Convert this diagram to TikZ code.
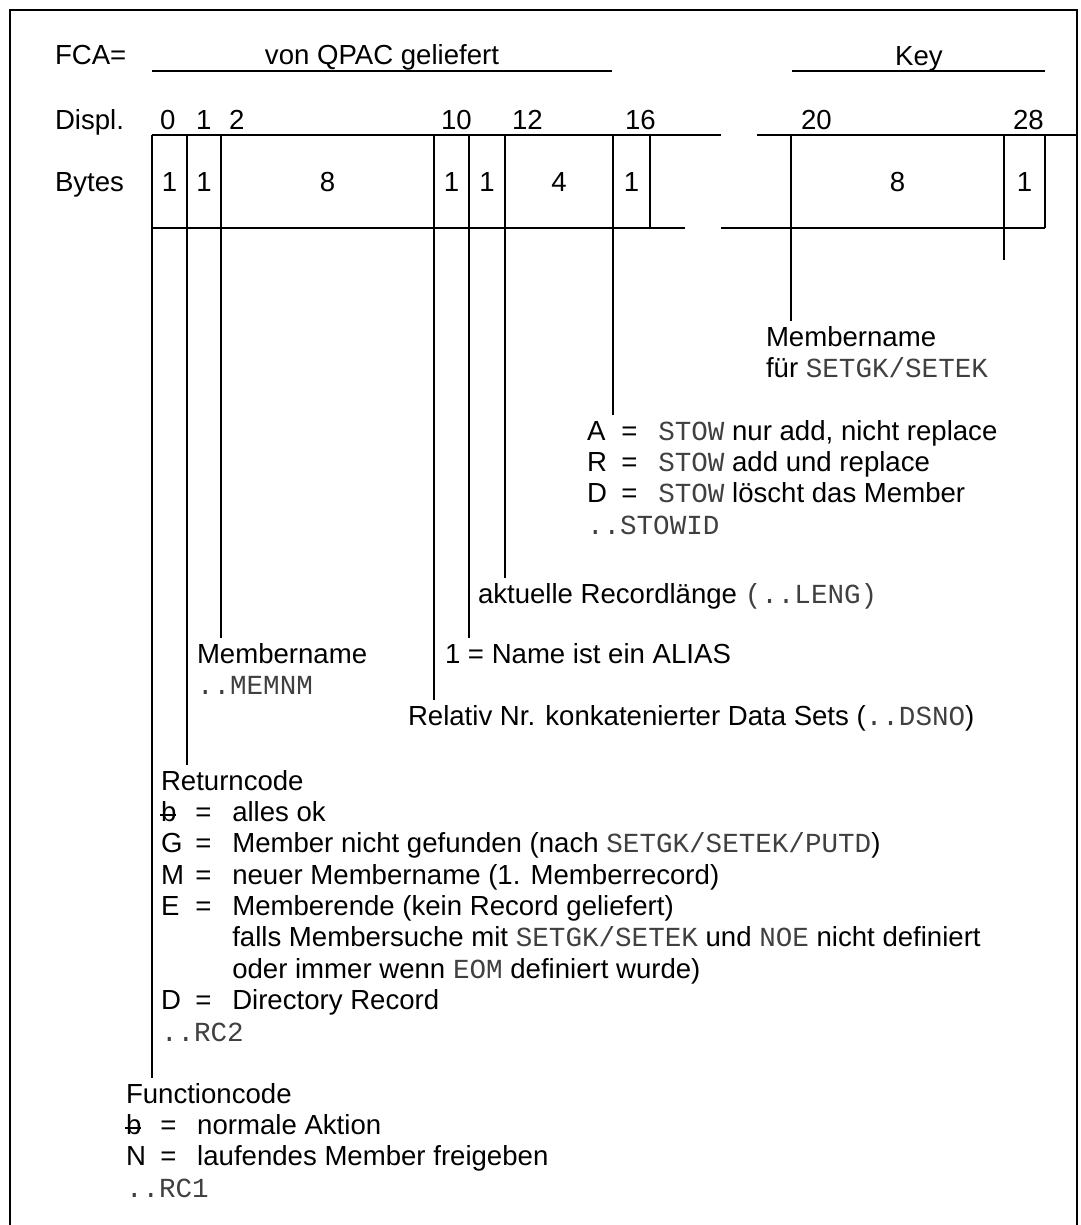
\documentclass[tikz,border=0pt]{standalone}
\usepackage{fontspec}
\setmainfont{Liberation Sans}
\setmonofont{Liberation Mono}

\newcommand{\cd}[1]{{\ttfamily\color{black!75}#1}}
\newcommand{\blnk}{\makebox[0pt][l]{\hspace{-0.04em}\rule[0.2em]{0.6em}{0.055em}}b}
\newcommand{\code}[2]{\makebox[1.25em][l]{#1}=\hspace{0.75em}#2}
\newcommand{\folge}{\hspace*{1.25em}\phantom{=}\hspace{0.75em}}
\newcommand{\blk}[1]{\begin{tabular}[t]{@{}l@{}}#1\end{tabular}}

\tikzset{
	txt/.style={inner sep=0pt, outer xsep=0pt, outer ysep=2pt, anchor=base west},
	zahl/.style={inner sep=0pt, anchor=base},
}

\begin{document}
\begin{tikzpicture}[x=0.02cm, y=-0.02cm, line width=1.1pt, font=\fontsize{15.7}{17.86}\selectfont]
	
	\useasboundingbox (0,0) rectangle (1081,1225);
	
	% Rahmen
	\draw (10,1225) -- (10,10) -- (1077,10) -- (1077,1225);
	
	% Kopf
	\node[txt] (fca)   at (55,64)  {FCA=};
	\node[txt] (displ) at (55,129) {Displ.};
	\node[txt] (bytes) at (55,191) {Bytes};
	\node[zahl] (qpac) at (382,64) {von QPAC geliefert};
	\node[zahl] (key)  at (919,65) {Key};
	\draw (152,71) -- (612,71);
	\draw (792,71) -- (1045,71);
	
	% Trennstriche
	\coordinate (s0)  at (152,135);
	\coordinate (s1)  at (187,135);
	\coordinate (s2)  at (221,135);
	\coordinate (s10) at (434,135);
	\coordinate (s11) at (469,135);
	\coordinate (s12) at (505,135);
	\coordinate (s16) at (613,135);
	\coordinate (s17) at (650,135);
	\coordinate (s20) at (791,135);
	\coordinate (s28) at (1004,135);
	\coordinate (s29) at (1045,135);
	
	% Tabelle
	\draw (152,135) -- (721,135);
	\draw (757,135) -- (1077,135);
	\draw (152,228) -- (685,228);
	\draw (721,228) -- (1045,228);
	
	% Displacements
	\node[txt] (d0)  at (160,129)  {0};
	\node[txt] (d1)  at (196,129)  {1};
	\node[txt] (d2)  at (229,129)  {2};
	\node[txt] (d10) at (441,129)  {10};
	\node[txt] (d12) at (512,129)  {12};
	\node[txt] (d16) at (625,129)  {16};
	\node[txt] (d20) at (801,129)  {20};
	\node[txt] (d28) at (1013,129) {28};
	
	% Laengen
	\node[zahl] (b0)  at (169.5,191)  {1};
	\node[zahl] (b1)  at (204,191)    {1};
	\node[zahl] (b2)  at (327.5,191)  {8};
	\node[zahl] (b10) at (451.5,191)  {1};
	\node[zahl] (b11) at (487,191)    {1};
	\node[zahl] (b12) at (559,191)    {4};
	\node[zahl] (b16) at (631.5,191)  {1};
	\node[zahl] (b20) at (897.5,191)  {8};
	\node[zahl] (b28) at (1024.5,191) {1};
	
	% Beschreibungen
	\node[txt] (mnk) at (766,346) {\blk{Membername\\für \cd{SETGK/SETEK}}};
	\node[txt] (stow) at (587,440) {\blk{%
			\code{A}{\cd{STOW} nur add, nicht replace}\\
			\code{R}{\cd{STOW} add und replace}\\
			\code{D}{\cd{STOW} löscht das Member}\\
			\cd{..STOWID}}};
	\node[txt] (leng) at (478,603) {\blk{aktuelle Recordlänge \cd{(..LENG)}}};
	\node[txt] (alias) at (445,663) {\blk{1 = Name ist ein ALIAS}};
	\node[txt] (mn) at (197,663) {\blk{Membername\\\cd{..MEMNM}}};
	\node[txt] (rel) at (408,725) {\blk{Relativ Nr. konkatenierter Data Sets (\cd{..DSNO})}};
	\node[txt] (rc) at (161,790) {\blk{%
			Returncode\\
			\code{\blnk}{alles ok}\\
			\code{G}{Member nicht gefunden (nach \cd{SETGK/SETEK/PUTD})}\\
			\code{M}{neuer Membername (1. Memberrecord)}\\
			\code{E}{Memberende (kein Record geliefert)}\\
			\folge falls Membersuche mit \cd{SETGK/SETEK} und \cd{NOE} nicht definiert\\
			\folge oder immer wenn \cd{EOM} definiert wurde)\\
			\code{D}{Directory Record}\\
			\cd{..RC2}}};
	\node[txt] (fc) at (126,1103) {\blk{%
			Functioncode\\
			\code{\blnk}{normale Aktion}\\
			\code{N}{laufendes Member freigeben}\\
			\cd{..RC1}}};
	
	% Hinweisstriche
	\draw (s0)  -- (s0 |- fc.north);
	\draw (s1)  -- (s1 |- rc.north);
	\draw (s2)  -- (s2 |- mn.north);
	\draw (s10) -- (s10 |- rel.north);
	\draw (s11) -- (s11 |- alias.north);
	\draw (s12) -- (s12 |- leng.north);
	\draw (s16) -- (s16 |- stow.north);
	\draw (s20) -- (s20 |- mnk.north);
	\draw (s17) -- ++(0,93);
	\draw (s29) -- ++(0,93);
	\draw (s28) -- ++(0,125);
	
\end{tikzpicture}
\end{document}
